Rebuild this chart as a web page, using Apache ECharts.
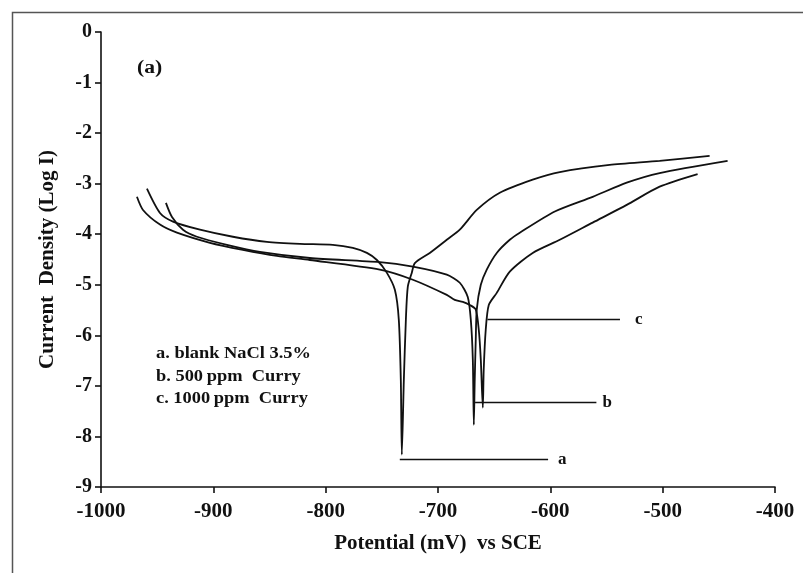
<!DOCTYPE html>
<html>
<head>
<meta charset="utf-8">
<script src="https://cdn.jsdelivr.net/npm/echarts@6/dist/echarts.min.js"></script>
<style>
html,body{margin:0;padding:0;background:#fff;}
#chart{width:803px;height:573px;}
</style>
</head>
<body>
<div id="chart"></div>
<script>
// ---- data (potential in mV vs SCE, log current density) ----
var blankPotential = [-959.1,-947.5,-935.9,-911.9,-882.6,-852.3,-822.9,-793.6,-775.8,-763.3,-754.4,-745.6,-738.4,-734.9,-733.1,-732.2,-730.4,-728.6,-726.9,-723.3,-720.6,-707.3,-692.2,-680.6,-665.5,-645.0,-615.7,-591.6,-547.2,-502.7,-458.2];
var blankLogI      = [-3.10,-3.58,-3.75,-3.91,-4.05,-4.15,-4.19,-4.21,-4.27,-4.37,-4.51,-4.76,-5.10,-5.69,-6.88,-8.36,-6.88,-5.69,-5.04,-4.76,-4.57,-4.37,-4.11,-3.91,-3.52,-3.18,-2.92,-2.77,-2.63,-2.55,-2.45];

var ppm500Potential = [-942.2,-936.8,-927.0,-914.6,-887.9,-858.5,-814.1,-751.8,-722.4,-692.2,-680.6,-673.5,-670.8,-669.0,-668.1,-667.3,-666.4,-665.5,-661.9,-656.6,-647.7,-636.1,-627.2,-596.0,-562.3,-532.0,-502.7,-442.2];
var ppm500LogI      = [-3.38,-3.66,-3.91,-4.05,-4.21,-4.35,-4.47,-4.55,-4.64,-4.80,-4.96,-5.24,-5.69,-6.48,-7.77,-6.88,-6.09,-5.49,-5.00,-4.70,-4.37,-4.11,-3.97,-3.55,-3.26,-2.98,-2.79,-2.55];

var ppm1000Potential = [-968.0,-962.6,-947.5,-932.4,-903.0,-873.7,-843.4,-814.1,-751.8,-722.4,-692.2,-685.1,-677.9,-671.7,-666.4,-663.7,-661.9,-660.1,-659.3,-657.5,-654.8,-647.7,-636.1,-615.7,-591.6,-562.3,-532.0,-502.7,-468.9];
var ppm1000LogI      = [-3.26,-3.52,-3.81,-3.97,-4.17,-4.31,-4.43,-4.51,-4.70,-4.90,-5.20,-5.30,-5.34,-5.40,-5.49,-5.89,-6.48,-7.43,-6.68,-5.89,-5.40,-5.16,-4.74,-4.37,-4.11,-3.77,-3.42,-3.06,-2.81];

// annotation leader lines: [startPotential, endPotential, logI]
var leaderA = [-734, -602, -8.46];
var leaderB = [-667, -559, -7.33];
var leaderC = [-656, -538, -5.69];

var xTicks = [-1000,-900,-800,-700,-600,-500,-400];
var yTicks = [0,-1,-2,-3,-4,-5,-6,-7,-8,-9];

var legendLines = ['a. blank NaCl 3.5%','b. 500\u2009ppm  Curry','c. 1000\u2009ppm  Curry'];

function pairs(xs, ys){ return xs.map(function(x,i){ return [x, ys[i]]; }); }

var FONT = '"Liberation Serif", "Times New Roman", serif';

function curve(name, xs, ys, leader, letter, gap){
  return {
    name: name, type: 'line', data: pairs(xs, ys),
    showSymbol: false, smooth: 0.25,
    lineStyle: {color: '#111', width: 1.8},
    silent: true,
    markLine: {
      silent: true, symbol: ['none','none'],
      lineStyle: {color: '#111', width: 1.4, type: 'solid'},
      label: {show: true, position: 'end', formatter: letter, color: '#111',
              fontFamily: FONT, fontWeight: 'bold', fontSize: 17, distance: gap},
      data: [[{coord: [leader[0], leader[2]]}, {coord: [leader[1], leader[2]]}]]
    }
  };
}

function plainNum(v){ return String(v); }

var chart = echarts.init(document.getElementById('chart'), null, {renderer: 'canvas'});
chart.setOption({
  animation: false,
  backgroundColor: '#fff',
  grid: {left: 101, right: 28, top: 32, bottom: 86, containLabel: false},
  xAxis: {
    type: 'value', min: xTicks[0], max: xTicks[xTicks.length-1], interval: 100,
    name: 'Potential (mV)  vs SCE', nameLocation: 'middle', nameGap: 46,
    nameTextStyle: {fontFamily: FONT, fontWeight: 'bold', fontSize: 21, color: '#111'},
    axisLine: {show: true, onZero: false, lineStyle: {color: '#111', width: 1.6}},
    axisTick: {show: true, inside: false, length: 6, lineStyle: {color: '#111', width: 1.6}},
    axisLabel: {fontFamily: FONT, fontWeight: 'bold', fontSize: 21, color: '#111', margin: 14, formatter: plainNum},
    splitLine: {show: false}
  },
  yAxis: {
    type: 'value', min: yTicks[yTicks.length-1], max: yTicks[0], interval: 1,
    name: 'Current  Density (Log I)', nameLocation: 'middle', nameGap: 43, nameRotate: 90,
    nameTextStyle: {fontFamily: FONT, fontWeight: 'bold', fontSize: 21, color: '#111'},
    axisLine: {show: true, onZero: false, lineStyle: {color: '#111', width: 1.6}},
    axisTick: {show: true, inside: false, length: 6, lineStyle: {color: '#111', width: 1.6}},
    axisLabel: {fontFamily: FONT, fontWeight: 'bold', fontSize: 20, color: '#111', margin: 9, formatter: plainNum},
    splitLine: {show: false}
  },
  series: [
    curve('a. blank NaCl 3.5%', blankPotential, blankLogI, leaderA, 'a', 10),
    curve('b. 500 ppm Curry', ppm500Potential, ppm500LogI, leaderB, 'b', 6),
    curve('c. 1000 ppm Curry', ppm1000Potential, ppm1000LogI, leaderC, 'c', 15)
  ],
  graphic: [
    {type: 'rect', left: 10, top: 10, silent: true,
     shape: {width: 830, height: 620},
     style: {fill: 'none', stroke: '#555', lineWidth: 1.5}},
    {type: 'text', x: 137, y: 59, scaleX: 1.2, silent: true,
     style: {text: '(a)', font: 'bold 18px ' + FONT, fill: '#111', verticalAlign: 'top'}},
    {type: 'text', x: 156, y: 346, scaleX: 1.15, silent: true,
     style: {text: legendLines[0], font: 'bold 16px ' + FONT, fill: '#111', verticalAlign: 'top'}},
    {type: 'text', x: 156, y: 369, scaleX: 1.15, silent: true,
     style: {text: legendLines[1], font: 'bold 16px ' + FONT, fill: '#111', verticalAlign: 'top'}},
    {type: 'text', x: 156, y: 391, scaleX: 1.15, silent: true,
     style: {text: legendLines[2], font: 'bold 16px ' + FONT, fill: '#111', verticalAlign: 'top'}}
  ]
});
</script>
</body>
</html>
